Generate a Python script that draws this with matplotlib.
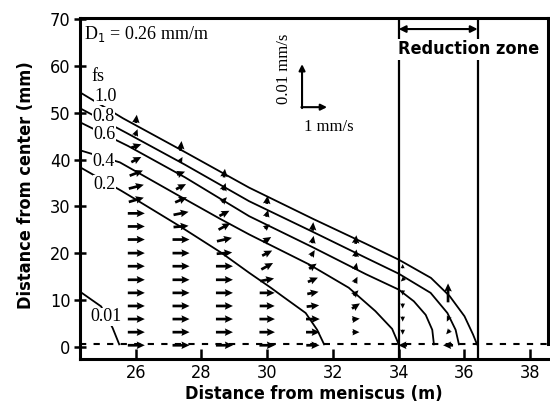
import matplotlib
matplotlib.use("Agg")
import matplotlib.pyplot as plt
import numpy as np

plt.rcParams['font.family'] = ['DejaVu Sans']
plt.rcParams['font.stretch'] = 'condensed'

# solid fraction contours: distance from meniscus (m) / distance from center (mm)
fs10_x = [24.30, 25.62, 27.50, 29.45, 31.40, 33.00, 34.00, 34.98, 35.55, 36.00, 36.26, 36.38]
fs10_y = [54.4, 48.8, 41.6, 34.0, 27.3, 22.0, 18.6, 14.7, 10.8, 6.5, 2.6, 0.5]
fs08_x = [24.30, 25.72, 27.50, 29.45, 31.40, 33.00, 34.00, 34.97, 35.48, 35.73, 35.83]
fs08_y = [51.0, 45.7, 38.9, 31.1, 24.5, 19.0, 15.6, 11.5, 7.2, 3.6, 0.5]
fs06_x = [24.30, 25.77, 27.50, 29.45, 31.40, 33.00, 34.00, 34.46, 34.82, 35.02, 35.07]
fs06_y = [48.0, 42.9, 36.2, 27.9, 21.2, 15.5, 12.2, 9.7, 6.8, 3.6, 0.5]
fs04_x = [24.30, 25.52, 27.23, 28.55, 29.45, 31.27, 32.48, 33.29, 33.80, 34.00]
fs04_y = [42.0, 39.4, 32.6, 27.4, 24.0, 17.6, 12.6, 7.6, 3.8, 0.5]
fs02_x = [24.30, 25.57, 26.02, 27.33, 28.60, 29.45, 30.11, 30.46, 31.17, 31.52, 31.73]
fs02_y = [38.4, 33.3, 31.4, 25.8, 20.1, 15.8, 12.6, 10.8, 7.2, 3.6, 0.5]
fs001_x = [24.30, 24.95, 25.30, 25.50]
fs001_y = [11.8, 8.6, 4.0, 0.5]

fs_names = ['1.0', '0.8', '0.6', '0.4', '0.2', '0.01']

# flow vectors: columns (m), rows (mm), u in mm/s, v in 0.01 mm/s
col_x = [26.02, 27.38, 28.70, 30.00, 31.39, 32.70, 34.12, 35.50]
row_y = [0.3, 3.1, 5.9, 8.7, 11.5, 14.3, 17.2, 20.0, 22.9, 25.7, 28.5, 31.4,
         34.2, 37.1, 40.0, 42.9, 45.8, 48.7]
N = None
arrow_u = [
    [.68, .68, .68, .68, .68, .68, .68, .68, .68, .68, .68, .60, .60, .53, .40, .40, .10, .04],
    [.68, .68, .68, .68, .68, .68, .68, .68, .68, .60, .60, .47, .40, .32, .12, .04, N, N],
    [.68, .68, .68, .68, .68, .68, .68, .62, .60, .47, .40, .20, .10, .04, N, N, N, N],
    [.62, .62, .62, .60, .60, .55, .47, .40, .32, .20, .08, .04, N, N, N, N, N, N],
    [.53, .55, .55, .50, .45, .40, .30, .15, .06, .03, N, N, N, N, N, N, N, N],
    [N, .28, .30, .32, .20, .12, .06, .04, .03, N, N, N, N, N, N, N, N, N],
    [-.35, 0, 0, 0, 0, -.15, 0, N, N, N, N, N, N, N, N, N, N, N],
    [-.40, -.15, -.10, N, 0, N, N, N, N, N, N, N, N, N, N, N, N, N],
]
arrow_v = [
    [0, 0, 0, 0, 0, 0, 0, 0, 0, 0, 0, .10, .09, .12, .12, .08, .15, .19],
    [0, 0, 0, 0, 0, 0, 0, 0, 0, .03, .07, .12, .12, .07, .12, .23, N, N],
    [0, 0, 0, 0, 0, 0, 0, .03, .08, .15, .12, .12, .17, .20, N, N, N, N],
    [0, 0, 0, 0, 0, .06, .15, .12, .12, .10, .16, .19, N, N, N, N, N, N],
    [0, 0, 0, .03, .05, .10, .12, .14, .17, .20, N, N, N, N, N, N, N, N],
    [N, 0, .02, .12, .12, .14, .16, .17, .20, N, N, N, N, N, N, N, N, N],
    [0, -.12, -.12, -.12, -.12, -.08, .10, N, N, N, N, N, N, N, N, N, N, N],
    [0, -.10, -.12, N, .44, N, N, N, N, N, N, N, N, N, N, N, N, N],
]

centre_y = 0.5
reduction_start, reduction_end = 34.0, 36.4

# reference vectors: 1 mm/s horizontal, 0.01 mm/s vertical (lengths in data units)
key_dx = 0.76
key_dy = 9.2

serif = ['Liberation Serif', 'DejaVu Serif']

fig = plt.figure(figsize=(5.5, 4.05), dpi=100)
ax = fig.add_axes([0.145, 0.114, 0.852, 0.842])

for xs, ys in [(fs10_x, fs10_y), (fs08_x, fs08_y), (fs06_x, fs06_y),
               (fs04_x, fs04_y), (fs02_x, fs02_y), (fs001_x, fs001_y)]:
    ax.plot(xs, ys, color='k', lw=1.3, zorder=3)

# vectors
X, Y, U, V = [], [], [], []
for i, cx in enumerate(col_x):
    for j, ry in enumerate(row_y):
        if arrow_u[i][j] is None:
            continue
        X.append(cx)
        Y.append(ry)
        U.append(arrow_u[i][j] * key_dx)
        V.append(arrow_v[i][j] * key_dy)
ax.quiver(X, Y, U, V, angles='xy', scale_units='xy', scale=1, pivot='middle',
          units='dots', width=2.7, headwidth=2.8, headlength=3.0, headaxislength=2.7,
          minlength=0.5, color='k', zorder=4)

# centre line and reduction zone
ax.axhline(centre_y, color='k', lw=1.5, ls=(0, (3, 3.5)), zorder=2)
ax.axvline(reduction_start, color='k', lw=1.6, zorder=3)
ax.axvline(reduction_end, color='k', lw=1.6, zorder=3)
ax.annotate('', xy=(reduction_end, 67.9), xytext=(reduction_start, 67.9),
            arrowprops=dict(arrowstyle='<|-|>', color='k', lw=1.5,
                            mutation_scale=10, shrinkA=0, shrinkB=0))
ax.text(36.13, 63.6, 'Reduction zone', ha='center', va='center', fontsize=13,
        fontweight='bold', zorder=6,
        bbox=dict(fc='white', ec='none', pad=1.0))

# fs labels
fs_pos = [(25.08, 53.5), (25.02, 49.3), (25.06, 45.4), (25.02, 39.6),
          (25.06, 34.7), (25.10, 6.4)]
for name, (tx, ty) in zip(fs_names, fs_pos):
    ax.text(tx, ty, name, ha='center', va='center', fontsize=13,
            family=serif, zorder=6,
            bbox=dict(fc='white', ec='none', pad=0.3))
ax.text(24.85, 57.8, 'fs', ha='center', va='center', fontsize=13, family=serif)

ax.text(24.42, 66.8, 'D$_1$ = 0.26 mm/m', ha='left', va='center', fontsize=13,
        family=serif)

# scale key
kx, ky = 31.06, 51.2
ax.annotate('', xy=(kx + key_dx, ky), xytext=(kx - 0.02, ky),
            arrowprops=dict(arrowstyle='-|>', color='k', lw=1.5,
                            mutation_scale=9, shrinkA=0, shrinkB=0))
ax.annotate('', xy=(kx, ky + key_dy), xytext=(kx, ky - 0.2),
            arrowprops=dict(arrowstyle='-|>', color='k', lw=1.5,
                            mutation_scale=9, shrinkA=0, shrinkB=0))
ax.text(30.52, 59.5, '0.01 mm/s', rotation=90, ha='center', va='center',
        fontsize=12, family=serif)
ax.text(31.12, 46.9, '1 mm/s', ha='left', va='center', fontsize=12, family=serif)

ax.set_xlim(24.3, 38.55)
ax.set_ylim(-2.6, 70.3)
ax.set_xticks(np.arange(26, 39, 2))
ax.set_yticks(np.arange(0, 71, 10))
ax.tick_params(axis='x', direction='in', length=7, width=1.8, labelsize=13, pad=4)
ax.tick_params(axis='y', direction='inout', length=9, width=1.8, labelsize=13, pad=2)
for s in ['left', 'bottom', 'top']:
    ax.spines[s].set_linewidth(2.2)
ax.spines['right'].set_visible(False)
ax.plot([1, 1], [(centre_y + 2.6) / 72.9, 1], transform=ax.transAxes,
        color='k', lw=2.2, clip_on=False)

ax.set_xlabel('Distance from meniscus (m)', fontsize=13, fontweight='bold')
ax.set_ylabel('Distance from center (mm)', fontsize=13, fontweight='bold')
ax.xaxis.set_label_coords(0.5, -0.078)
ax.yaxis.set_label_coords(-0.096, 0.51)

fig.savefig('out.png', dpi=100)
